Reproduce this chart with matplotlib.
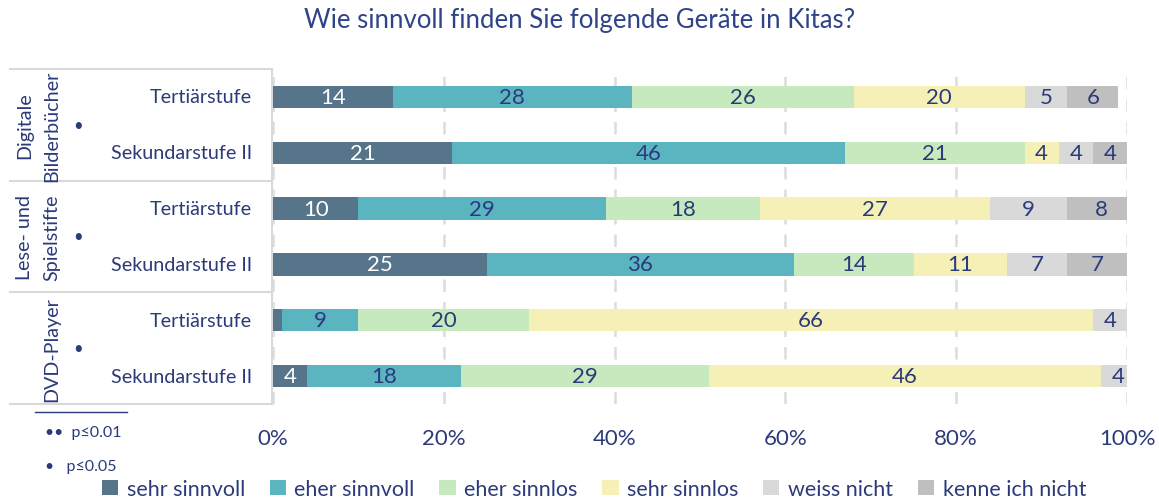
import numpy as np
import matplotlib.pyplot as plt
from matplotlib.patches import Patch
from matplotlib.transforms import blended_transform_factory

plt.rcParams['font.family'] = ['Lato', 'DejaVu Sans']

title = 'Wie sinnvoll finden Sie folgende Geräte in Kitas?'
answers = ['sehr sinnvoll', 'eher sinnvoll', 'eher sinnlos', 'sehr sinnlos',
           'weiss nicht', 'kenne ich nicht']
colors = ['#56758a', '#5ab5c0', '#c6e9be', '#f5f0b6', '#d9d9d9', '#bfbfbf']

groups = ['Digitale\nBilderbücher', 'Lese- und\nSpielstifte', 'DVD-Player']
levels = ['Tertiärstufe', 'Sekundarstufe II']

# one row per bar, top to bottom
sehr_sinnvoll = [14, 21, 10, 25, 1, 4]
eher_sinnvoll = [28, 46, 29, 36, 9, 18]
eher_sinnlos = [26, 21, 18, 14, 20, 29]
sehr_sinnlos = [20, 4, 27, 11, 66, 46]
weiss_nicht = [5, 4, 9, 7, 4, 4]
kenne_nicht = [6, 4, 8, 7, 0, 0]
series = [sehr_sinnvoll, eher_sinnvoll, eher_sinnlos, sehr_sinnlos,
          weiss_nicht, kenne_nicht]

navy = '#2b3a7a'
W, H = 1159, 502
fig = plt.figure(figsize=(W / 100, H / 100), dpi=100)
ax = fig.add_axes([273 / W, 1 - 405 / H, (1127 - 273) / W, (405 - 70) / H])

n = len(sehr_sinnvoll)
y = np.arange(n)
left = np.zeros(n)
for k, (vals, c) in enumerate(zip(series, colors)):
    vals = np.array(vals, dtype=float)
    ax.barh(y, vals, left=left, height=0.4, color=c, zorder=3)
    for i in range(n):
        if vals[i] >= 2:
            ax.text(left[i] + vals[i] / 2, y[i], f'{vals[i]:.0f}',
                    ha='center', va='center', fontsize=16,
                    color='white' if k == 0 else navy, zorder=4)
    left += vals

ax.set_xlim(0, 100)
ax.set_ylim(n - 0.5, -0.5)
ax.set_yticks([])
ax.set_xticks(np.arange(0, 101, 20))
ax.set_xticklabels([f'{v}%' for v in range(0, 101, 20)])
ax.tick_params(axis='x', length=0, labelsize=16, labelcolor=navy, pad=17)
for s in ax.spines.values():
    s.set_visible(False)
ax.grid(axis='x', color='#dcdcdc', linestyle=(0, (5, 4)), linewidth=1.8, zorder=0)

fig.suptitle(title, x=0.5, y=0.985, fontsize=18.5, color='#2f4388')

# category panel on the left
tr = blended_transform_factory(fig.transFigure, ax.transData)
line_kw = dict(color='#d9d9d9', linewidth=1.5, transform=tr, clip_on=False)
for yb in [-0.5, 1.5, 3.5, 5.5]:
    ax.plot([10 / W, 272 / W], [yb, yb], **line_kw)
ax.plot([272 / W, 272 / W], [-0.5, 5.5], **line_kw)

for i in range(n):
    ax.text(252 / W, y[i], levels[i % 2], ha='right', va='center',
            fontsize=14.2, color=navy, transform=tr)

for g, name in enumerate(groups):
    yc = 2 * g + 0.5
    if '\n' in name:
        first, second = name.split('\n')
        ax.text(25 / W, yc, first, rotation=90, ha='center', va='center',
                fontsize=14.2, color=navy, transform=tr)
        ax.text(52 / W, yc, second, rotation=90, ha='center', va='center',
                fontsize=14.2, color=navy, transform=tr)
    else:
        ax.text(52 / W, yc, name, rotation=90, ha='center', va='center',
                fontsize=14.2, color=navy, transform=tr)
    ax.text(78 / W, yc, '•', ha='center', va='center', fontsize=12,
            color=navy, transform=tr)

# significance note
fig.add_artist(plt.Line2D([35 / W, 127 / W], [1 - 413 / H, 1 - 413 / H],
                          color=navy, linewidth=1))
fig.text(45 / W, 1 - 433 / H, '••  p≤0.01', fontsize=11.5, color=navy, va='center')
fig.text(45 / W, 1 - 467 / H, '•   p≤0.05', fontsize=11.5, color=navy, va='center')

handles = [Patch(facecolor=c, label=a) for a, c in zip(answers, colors)]
fig.legend(handles=handles, loc='center', bbox_to_anchor=(594 / W, 1 - 490 / H),
           ncol=6, frameon=False, fontsize=15.5, handlelength=0.75,
           handleheight=0.75, handletextpad=0.4, columnspacing=1.15,
           labelcolor=navy)

fig.savefig('out.png', dpi=100)
